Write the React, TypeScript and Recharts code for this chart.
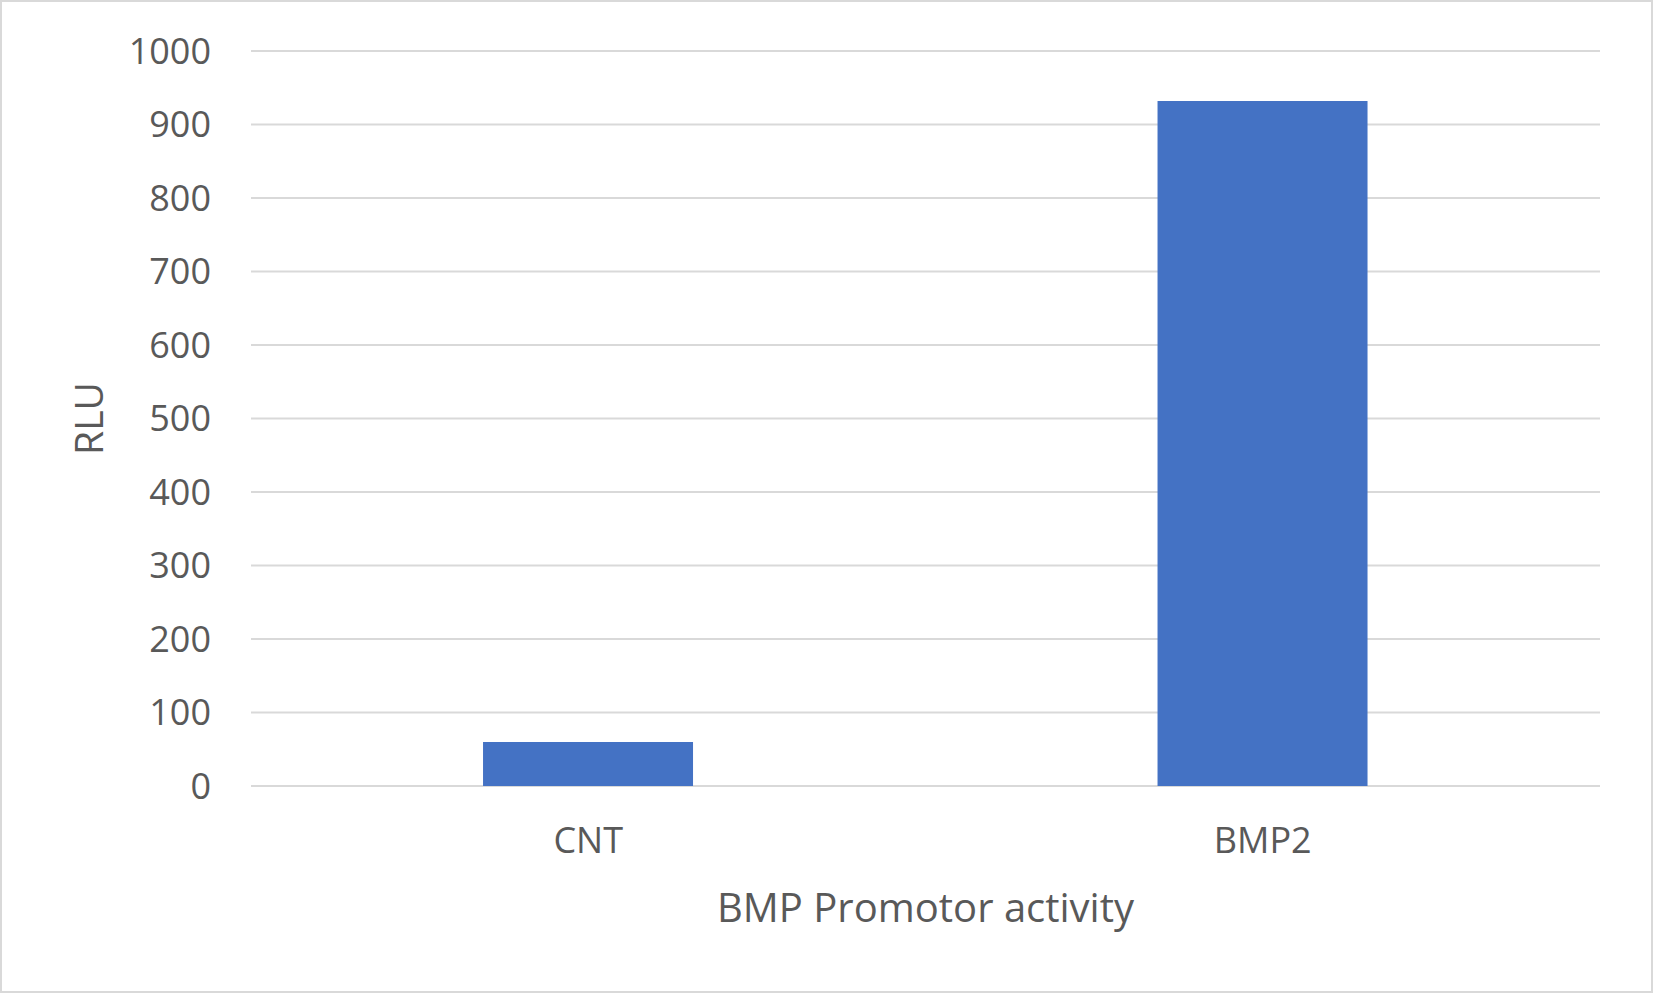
import React from "react";
import { BarChart, Bar, XAxis, YAxis, CartesianGrid } from "recharts";

const categories = ["CNT", "BMP2"];
const rluValues = [60, 932];
const yTicks = [0, 100, 200, 300, 400, 500, 600, 700, 800, 900, 1000];

const data = categories.map((name, i) => ({ name, rlu: rluValues[i] }));

const TEXT = "#595959";
const FONT = "'Open Sans', 'Noto Sans', sans-serif";

export default function App() {
  return (
    <div
      style={{
        position: "absolute",
        left: 0,
        top: 0,
        width: 1653,
        height: 993,
        background: "#fff",
        outline: "2px solid #d9d9d9",
        outlineOffset: -2,
        fontFamily: FONT,
      }}
    >
      <BarChart
        width={1653}
        height={993}
        data={data}
        barCategoryGap="34.4%"
        margin={{ top: 51, right: 53, left: 0, bottom: 57 }}
      >
        <CartesianGrid vertical={false} stroke="#d9d9d9" strokeWidth={2} />
        <XAxis
          dataKey="name"
          height={150}
          axisLine={false}
          tickLine={false}
          tickSize={0}
          tickMargin={41}
          tick={{ fontSize: 36, fill: TEXT, fontFamily: FONT }}
          label={{
            value: "BMP Promotor activity",
            position: "insideBottom",
            offset: 14,
            fontSize: 40,
            fill: TEXT,
            fontFamily: FONT,
          }}
        />
        <YAxis
          width={251}
          domain={[0, 1000]}
          ticks={yTicks}
          interval={0}
          axisLine={false}
          tickLine={false}
          tickSize={0}
          tickMargin={40}
          tick={{ fontSize: 36, fill: TEXT, fontFamily: FONT }}
          label={{
            value: "RLU",
            angle: -90,
            position: "insideLeft",
            offset: 89,
            fontSize: 39,
            fill: TEXT,
            fontFamily: FONT,
            style: { textAnchor: "middle" },
          }}
        />
        <Bar dataKey="rlu" fill="#4472C4" isAnimationActive={false} />
      </BarChart>
    </div>
  );
}
